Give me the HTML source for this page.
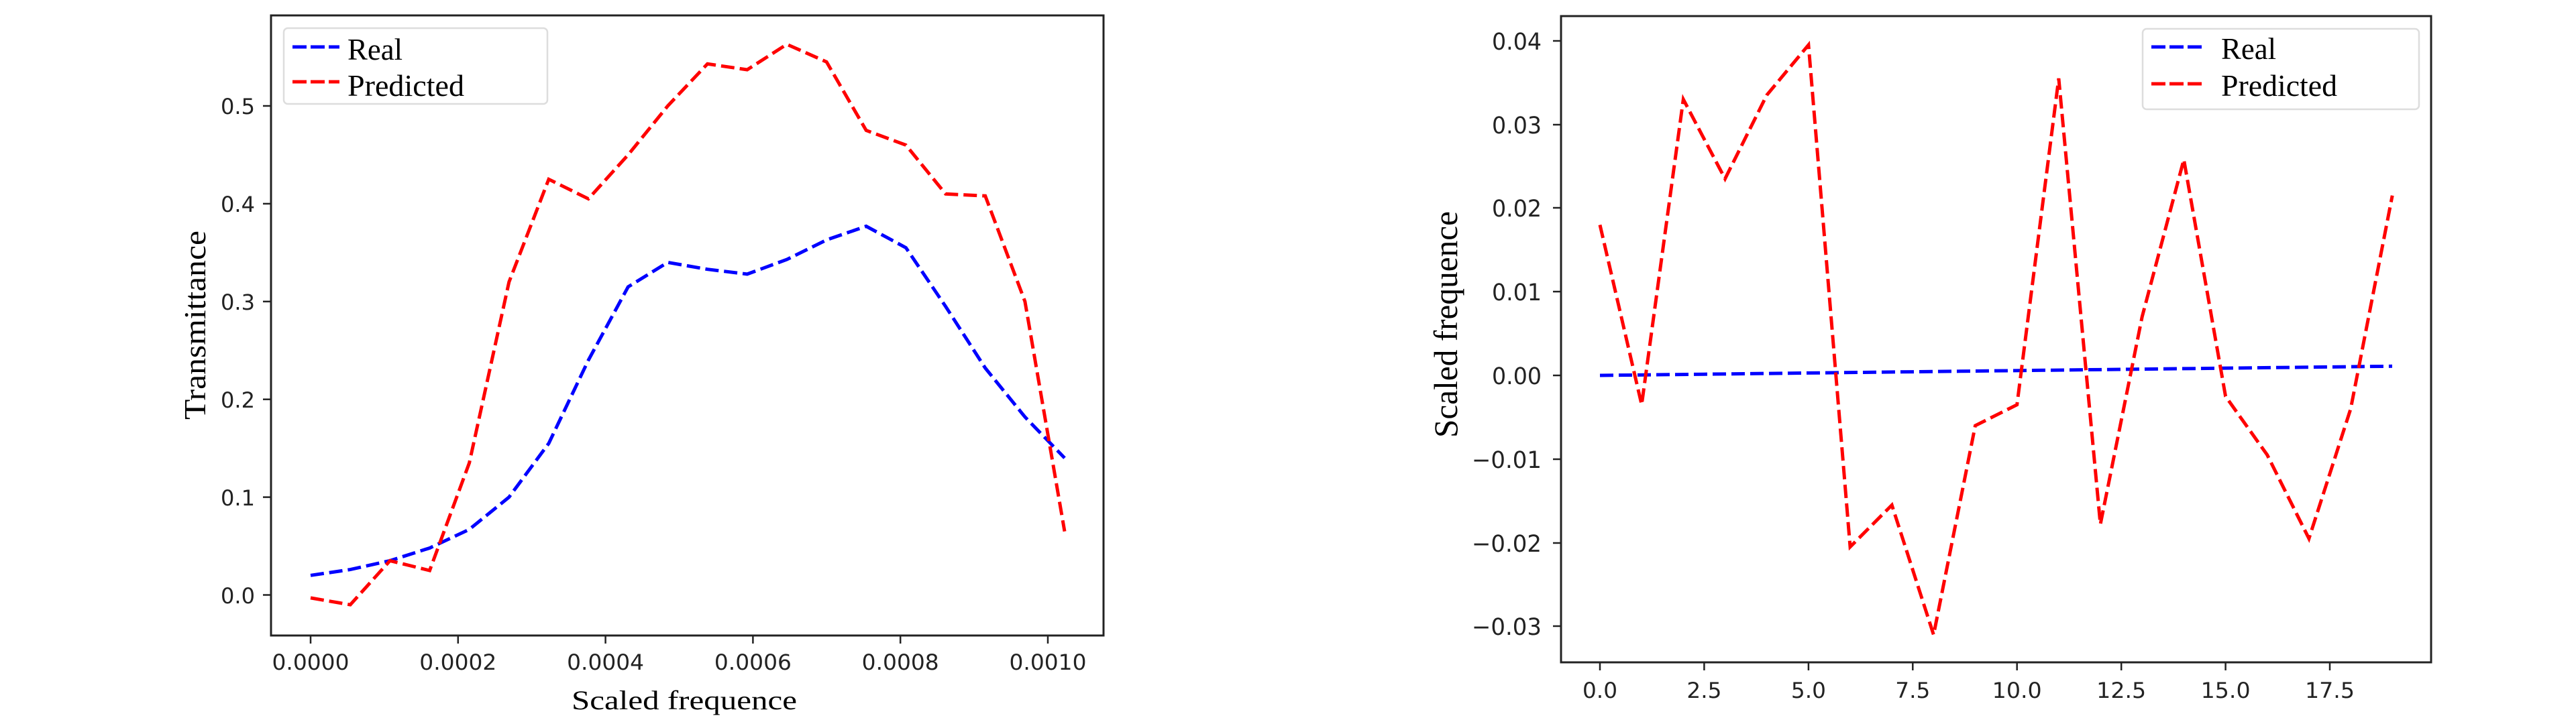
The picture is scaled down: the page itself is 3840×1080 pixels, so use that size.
<!DOCTYPE html>
<html><head><meta charset="utf-8"><style>html,body{margin:0;padding:0;background:#fff}svg{display:block}</style></head>
<body>
<svg width="3840" height="1080" viewBox="0 0 3840 1080" xmlns="http://www.w3.org/2000/svg">
<rect width="3840" height="1080" fill="#fff"/>
<g font-family="'DejaVu Sans','Liberation Sans',sans-serif" font-size="32" fill="#222">
<!-- LEFT PLOT -->
<polyline fill="none" stroke="#0000ff" stroke-width="5" stroke-dasharray="20 8" points="463,858.3 522.2,849.6 581.3,836.4 640.5,817.5 699.6,789.7 758.8,741.6 818,661.4 877.1,537.3 936.3,427.9 995.4,391.4 1054.6,401.7 1113.8,408.9 1172.9,387.1 1232.1,357.9 1291.2,337.5 1350.4,369.5 1409.6,457.1 1468.7,549 1527.9,622 1587,683.2"/>
<polyline fill="none" stroke="#ff0000" stroke-width="5" stroke-dasharray="20 8" points="463,891.9 522.2,902.1 581.3,836.4 640.5,851 699.6,690.5 758.8,420.6 818,267.4 877.1,296.6 936.3,231 995.4,158 1054.6,95.3 1113.8,104 1172.9,66.1 1232.1,92.3 1291.2,194.5 1350.4,216.4 1409.6,289.3 1468.7,292.2 1527.9,449.8 1587,792.7"/>
<rect x="404" y="23" width="1241" height="925" fill="none" stroke="#222" stroke-width="3"/>
<g stroke="#222" stroke-width="2.5">
<line x1="392" x2="404" y1="887.5" y2="887.5"/><line x1="392" x2="404" y1="741.6" y2="741.6"/><line x1="392" x2="404" y1="595.7" y2="595.7"/><line x1="392" x2="404" y1="449.8" y2="449.8"/><line x1="392" x2="404" y1="303.9" y2="303.9"/><line x1="392" x2="404" y1="158" y2="158"/>
<line y1="948" y2="960" x1="463" x2="463"/><line y1="948" y2="960" x1="682.8" x2="682.8"/><line y1="948" y2="960" x1="902.6" x2="902.6"/><line y1="948" y2="960" x1="1122.4" x2="1122.4"/><line y1="948" y2="960" x1="1342.2" x2="1342.2"/><line y1="948" y2="960" x1="1562" x2="1562"/>
</g>
<g text-anchor="end">
<text x="380" y="900" textLength="51" lengthAdjust="spacingAndGlyphs">0.0</text>
<text x="380" y="754" textLength="51" lengthAdjust="spacingAndGlyphs">0.1</text>
<text x="380" y="608" textLength="51" lengthAdjust="spacingAndGlyphs">0.2</text>
<text x="380" y="462" textLength="51" lengthAdjust="spacingAndGlyphs">0.3</text>
<text x="380" y="316" textLength="51" lengthAdjust="spacingAndGlyphs">0.4</text>
<text x="380" y="170" textLength="51" lengthAdjust="spacingAndGlyphs">0.5</text>
</g>
<g text-anchor="middle">
<text x="463" y="999" textLength="115" lengthAdjust="spacingAndGlyphs">0.0000</text>
<text x="682.8" y="999" textLength="115" lengthAdjust="spacingAndGlyphs">0.0002</text>
<text x="902.6" y="999" textLength="115" lengthAdjust="spacingAndGlyphs">0.0004</text>
<text x="1122.4" y="999" textLength="115" lengthAdjust="spacingAndGlyphs">0.0006</text>
<text x="1342.2" y="999" textLength="115" lengthAdjust="spacingAndGlyphs">0.0008</text>
<text x="1562" y="999" textLength="115" lengthAdjust="spacingAndGlyphs">0.0010</text>
</g>
<g font-family="'Liberation Serif',serif" fill="#000">
<text x="852" y="1058" font-size="40" textLength="336" lengthAdjust="spacingAndGlyphs">Scaled frequence</text>
<text transform="translate(306,626) rotate(-90)" font-size="46" textLength="282" lengthAdjust="spacingAndGlyphs">Transmittance</text>
</g>
<rect x="423" y="42" width="393" height="113" rx="6" fill="#fff" stroke="#ddd" stroke-width="2.5"/>
<line x1="436" x2="506" y1="70" y2="70" stroke="#0000ff" stroke-width="5" stroke-dasharray="21 6"/>
<line x1="436" x2="506" y1="122" y2="122" stroke="#ff0000" stroke-width="5" stroke-dasharray="21 6"/>
<g font-family="'Liberation Serif',serif" fill="#000" font-size="46">
<text x="518" y="89" textLength="82" lengthAdjust="spacingAndGlyphs">Real</text>
<text x="518" y="143" textLength="174" lengthAdjust="spacingAndGlyphs">Predicted</text>
</g>

<!-- RIGHT PLOT -->
<polyline fill="none" stroke="#0000ff" stroke-width="5" stroke-dasharray="20 8" points="2385,560 3566,546.3"/>
<polyline fill="none" stroke="#ff0000" stroke-width="5" stroke-dasharray="20 8" points="2385,335.4 2447.2,603.7 2509.3,148.2 2571.5,266.7 2633.7,141.9 2695.9,67 2758,815.8 2820.2,753.4 2882.4,946.9 2944.5,634.9 3006.7,603.7 3068.9,117 3131,782.1 3193.2,472.6 3255.4,238 3317.6,591.2 3379.7,678.6 3441.9,803.4 3504.1,609.9 3566.2,291.7"/>
<rect x="2327" y="24" width="1297" height="964" fill="none" stroke="#222" stroke-width="3"/>
<g stroke="#222" stroke-width="2.5">
<line x1="2315" x2="2327" y1="61" y2="61"/><line x1="2315" x2="2327" y1="186" y2="186"/><line x1="2315" x2="2327" y1="310" y2="310"/><line x1="2315" x2="2327" y1="435" y2="435"/><line x1="2315" x2="2327" y1="560" y2="560"/><line x1="2315" x2="2327" y1="685" y2="685"/><line x1="2315" x2="2327" y1="810" y2="810"/><line x1="2315" x2="2327" y1="934" y2="934"/>
<line y1="988" y2="1000" x1="2385" x2="2385"/><line y1="988" y2="1000" x1="2540.4" x2="2540.4"/><line y1="988" y2="1000" x1="2695.9" x2="2695.9"/><line y1="988" y2="1000" x1="2851.3" x2="2851.3"/><line y1="988" y2="1000" x1="3006.7" x2="3006.7"/><line y1="988" y2="1000" x1="3162.2" x2="3162.2"/><line y1="988" y2="1000" x1="3317.6" x2="3317.6"/><line y1="988" y2="1000" x1="3473" x2="3473"/>
</g>
<g text-anchor="end" font-size="35">
<text x="2298" y="74" textLength="74" lengthAdjust="spacingAndGlyphs">0.04</text>
<text x="2298" y="199" textLength="74" lengthAdjust="spacingAndGlyphs">0.03</text>
<text x="2298" y="323" textLength="74" lengthAdjust="spacingAndGlyphs">0.02</text>
<text x="2298" y="448" textLength="74" lengthAdjust="spacingAndGlyphs">0.01</text>
<text x="2298" y="573" textLength="74" lengthAdjust="spacingAndGlyphs">0.00</text>
<text x="2298" y="698" textLength="104" lengthAdjust="spacingAndGlyphs">−0.01</text>
<text x="2298" y="823" textLength="104" lengthAdjust="spacingAndGlyphs">−0.02</text>
<text x="2298" y="947" textLength="104" lengthAdjust="spacingAndGlyphs">−0.03</text>
</g>
<g text-anchor="middle">
<text x="2385" y="1041" textLength="52" lengthAdjust="spacingAndGlyphs">0.0</text>
<text x="2540.4" y="1041" textLength="52" lengthAdjust="spacingAndGlyphs">2.5</text>
<text x="2695.9" y="1041" textLength="52" lengthAdjust="spacingAndGlyphs">5.0</text>
<text x="2851.3" y="1041" textLength="52" lengthAdjust="spacingAndGlyphs">7.5</text>
<text x="3006.7" y="1041" textLength="74" lengthAdjust="spacingAndGlyphs">10.0</text>
<text x="3162.2" y="1041" textLength="74" lengthAdjust="spacingAndGlyphs">12.5</text>
<text x="3317.6" y="1041" textLength="74" lengthAdjust="spacingAndGlyphs">15.0</text>
<text x="3473" y="1041" textLength="74" lengthAdjust="spacingAndGlyphs">17.5</text>
</g>
<text transform="translate(2172,653) rotate(-90)" font-family="'Liberation Serif',serif" fill="#000" font-size="50" textLength="338" lengthAdjust="spacingAndGlyphs">Scaled frequence</text>
<rect x="3194" y="43" width="412" height="120" rx="6" fill="#fff" stroke="#ddd" stroke-width="2.5"/>
<line x1="3207" x2="3282" y1="70" y2="70" stroke="#0000ff" stroke-width="5" stroke-dasharray="21 6"/>
<line x1="3207" x2="3282" y1="125" y2="125" stroke="#ff0000" stroke-width="5" stroke-dasharray="21 6"/>
<g font-family="'Liberation Serif',serif" fill="#000" font-size="46">
<text x="3311" y="88" textLength="82" lengthAdjust="spacingAndGlyphs">Real</text>
<text x="3311" y="143" textLength="173" lengthAdjust="spacingAndGlyphs">Predicted</text>
</g>
</g>
</svg>
</body></html>
